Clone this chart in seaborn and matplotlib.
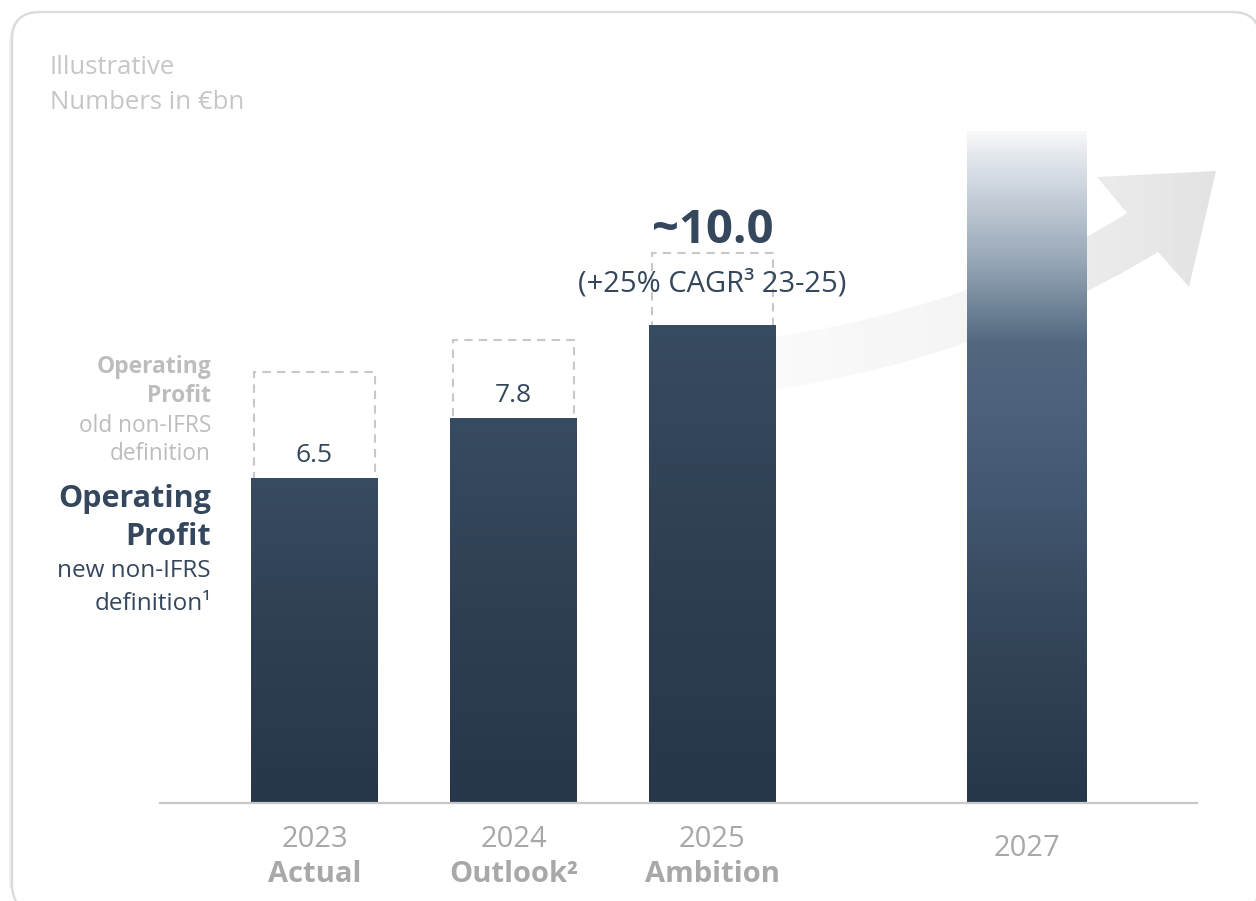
import numpy as np
import matplotlib
matplotlib.use("Agg")
import matplotlib.pyplot as plt
import seaborn as sns
from matplotlib.patches import FancyBboxPatch, PathPatch
from matplotlib.path import Path
from matplotlib.colors import LinearSegmentedColormap
import matplotlib.transforms as mtrans

# ---------------- data (illustrative heights) ----------------
years = ["2023", "2024", "2025", "2027"]
subtitles = ["Actual", "Outlook²", "Ambition", ""]
positions = [0.0, 1.0, 2.0, 3.58]
new_def_heights = [6.5, 7.7, 9.56, 13.44]      # dark bars (new non-IFRS definition)
old_def_heights = [8.62, 9.26, 11.0]           # dashed boxes (old non-IFRS definition)
value_labels = ["6.5", "7.8", "~10.0"]
cagr_label = "(+25% CAGR³ 23-25)"

DARK = "#34475c"
GREY_LBL = "#bdbdbd"
GREY_X = "#a8a8a8"

sns.set_theme(style="white")
plt.rcParams["font.family"] = ["Open Sans", "DejaVu Sans"]

W, H = 1256, 901
fig = plt.figure(figsize=(W / 100, H / 100), dpi=100)
fig.patch.set_facecolor("white")

# background axes in pixel coordinates (card, arrow, side texts)
bg = fig.add_axes([0, 0, 1, 1])
bg.set_zorder(0)
bg.axis("off")

shadow = FancyBboxPatch((12, 14), 1248, 900, boxstyle="round,pad=0,rounding_size=28",
                        fc="none", ec="#f0f0f0", lw=4, zorder=0)
bg.add_patch(shadow)
card = FancyBboxPatch((12, 12), 1248, 900, boxstyle="round,pad=0,rounding_size=28",
                      fc="white", ec="#dadada", lw=1.6, zorder=0.5)
bg.add_patch(card)

# growth arrow (decoration)
verts = [(700, 347), (960, 320), (1127, 213), (1097, 177), (1216, 171), (1189, 287),
         (1158, 252), (950, 378), (700, 398), (700, 347)]
codes = [Path.MOVETO, Path.CURVE3, Path.CURVE3, Path.LINETO, Path.LINETO, Path.LINETO,
         Path.LINETO, Path.CURVE3, Path.CURVE3, Path.CLOSEPOLY]
arrow = PathPatch(Path(verts, codes), fc="none", ec="none", transform=bg.transData)
bg.add_patch(arrow)
arrow_cmap = LinearSegmentedColormap.from_list("arr", ["#fdfdfd", "#f5f5f5", "#e3e3e3"])
grad_h = np.linspace(0, 1, 256).reshape(1, -1)
im = bg.imshow(grad_h, extent=(700, 1216, 400, 170), cmap=arrow_cmap, aspect="auto",
               zorder=1, interpolation="bilinear")
im.set_clip_path(arrow)
bg.set_xlim(0, W)
bg.set_ylim(H, 0)

# ---------------- main axes ----------------
base_px = 803
px_per_unit = 50.0
ax = fig.add_axes([160 / W, 1 - base_px / H, (1197 - 160) / W, base_px / H])
ax.set_zorder(1)
ax.patch.set_alpha(0)

# dashed boxes (old definition)
n0 = len(ax.patches)
sns.barplot(x=positions[:3], y=old_def_heights, native_scale=True, width=0.608,
            fill=False, errorbar=None, color="#c8c8c8", ax=ax)
for p in ax.patches[n0:]:
    p.set_facecolor("none")
    p.set_edgecolor("#c8c8c8")
    p.set_linewidth(1.5)
    p.set_linestyle((0, (4, 3)))
    p.set_zorder(1)

# solid bars (new definition)
n1 = len(ax.patches)
sns.barplot(x=positions[:3], y=new_def_heights[:3], native_scale=True, width=0.638,
            color="#2f3f53", saturation=1, errorbar=None, linewidth=0, ax=ax)
sns.barplot(x=[positions[3]], y=[new_def_heights[3]], native_scale=True, width=0.603,
            color="#2f3f53", saturation=1, errorbar=None, linewidth=0, ax=ax)

bar_cmap = LinearSegmentedColormap.from_list("bar", ["#283649", "#2f3f53", "#374b61"])
cmap_2027 = LinearSegmentedColormap.from_list(
    "b27", [(0.0, "#27364a"), (0.3, "#37495e"), (0.45, "#425770"), (0.6, "#4d637c"),
            (0.684, "#51687f"), (0.808, "#98a8b8"), (0.908, "#c8d1da"),
            (0.972, "#e8ecf0"), (1.0, "#f8f9fa")])
grad_v = np.linspace(0, 1, 512).reshape(-1, 1)
for i, p in enumerate(ax.patches[n1:]):
    p.set_zorder(2)
    x0, w, h = p.get_x(), p.get_width(), p.get_height()
    cm = cmap_2027 if i == 3 else bar_cmap
    gi = ax.imshow(grad_v, extent=(x0, x0 + w, 0, h), origin="lower", cmap=cm,
                   aspect="auto", zorder=2.1, interpolation="bilinear")
    gi.set_clip_path(p)

ax.set_xlim((160 - 314.5) / 199, (1197 - 314.5) / 199)
ax.set_ylim(0, base_px / px_per_unit)
ax.set_xticks([])
ax.set_yticks([])
ax.set_xlabel("")
ax.set_ylabel("")
for s in ["top", "left", "right"]:
    ax.spines[s].set_visible(False)
ax.spines["bottom"].set_color("#c8c8c8")
ax.spines["bottom"].set_linewidth(1.6)
ax.spines["bottom"].set_zorder(3)

# value labels
for i in range(2):
    ax.text(positions[i], new_def_heights[i] + 0.32, value_labels[i], ha="center",
            va="baseline", fontsize=19, color=DARK, zorder=5)
ax.text(positions[2], old_def_heights[2] + 0.2, value_labels[2], ha="center",
        va="baseline", fontsize=34, fontweight="bold", color=DARK, zorder=5)
ax.text(positions[2], old_def_heights[2] - 0.78, cagr_label, ha="center",
        va="baseline", fontsize=21, color=DARK, zorder=5)

# x category labels
tr = mtrans.blended_transform_factory(ax.transData, bg.transData)
for i, (yr, sub) in enumerate(zip(years, subtitles)):
    if sub:
        ax.text(positions[i], 847, yr, transform=tr, ha="center", va="baseline",
                fontsize=21, color=GREY_X)
        ax.text(positions[i], 882, sub, transform=tr, ha="center", va="baseline",
                fontsize=21, fontweight="bold", color=GREY_X)
    else:
        ax.text(positions[i], 856, yr, transform=tr, ha="center", va="baseline",
                fontsize=21, color=GREY_X)

# corner / side texts (pixel coordinates)
bg.text(50, 74, "Illustrative", ha="left", va="baseline", fontsize=18.5,
        color="#c6c6c6")
bg.text(50, 109, "Numbers in €bn", ha="left", va="baseline", fontsize=18.5,
        color="#c6c6c6")

bg.text(211, 373, "Operating", ha="right", va="baseline", fontsize=16.5,
        fontweight="bold", color=GREY_LBL)
bg.text(211, 402, "Profit", ha="right", va="baseline", fontsize=16.5,
        fontweight="bold", color=GREY_LBL)
bg.text(211, 432, "old non-IFRS", ha="right", va="baseline", fontsize=16.3,
        color=GREY_LBL)
bg.text(211, 460, "definition", ha="right", va="baseline", fontsize=16.3,
        color=GREY_LBL)

bg.text(211, 507, "Operating", ha="right", va="baseline", fontsize=22,
        fontweight="bold", color=DARK)
bg.text(211, 545, "Profit", ha="right", va="baseline", fontsize=22,
        fontweight="bold", color=DARK)
bg.text(211, 577, "new non-IFRS", ha="right", va="baseline", fontsize=17.5,
        color=DARK)
bg.text(211, 610, "definition¹", ha="right", va="baseline", fontsize=17.5,
        color=DARK)

fig.savefig("out.png", dpi=100)
